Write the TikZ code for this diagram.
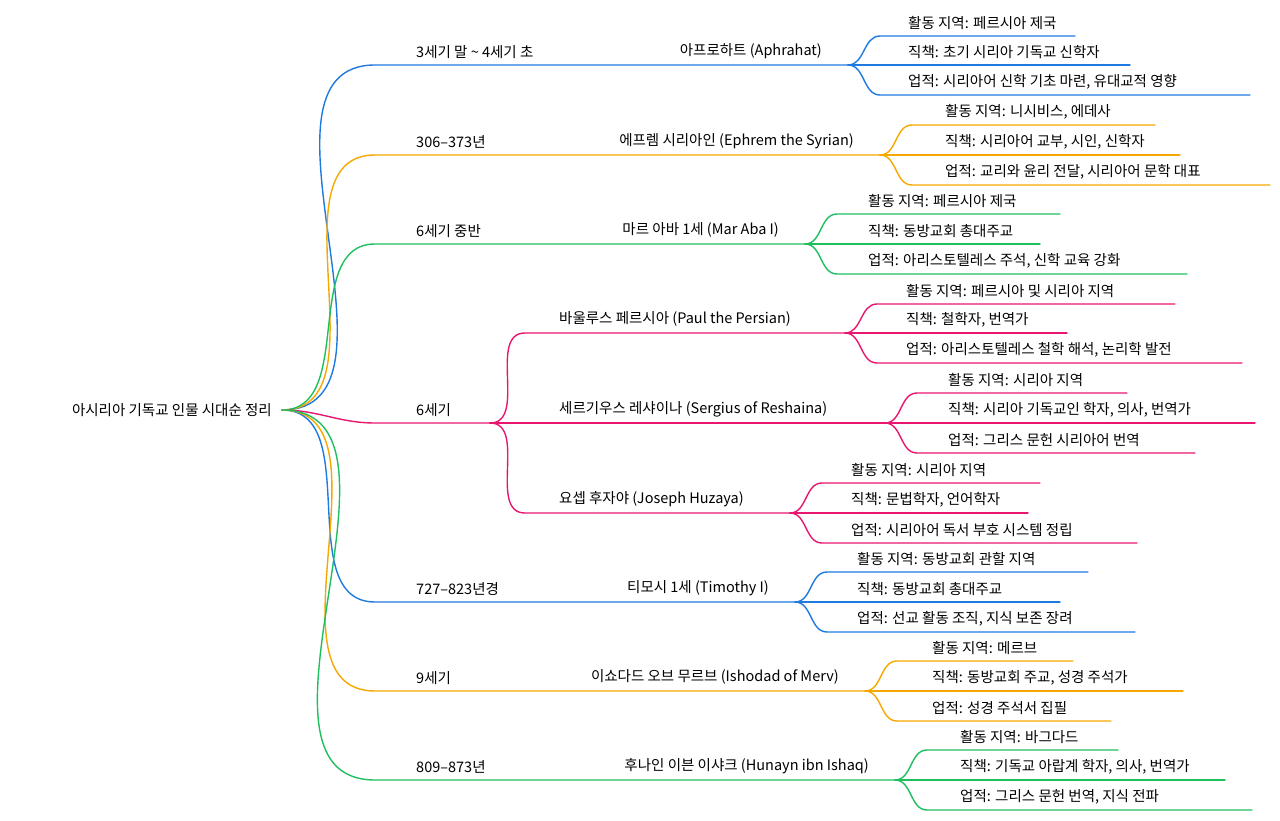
\documentclass[tikz,border=0pt]{standalone}
\usepackage{fontspec}
\setmainfont{Noto Sans CJK KR}
\definecolor{cb}{HTML}{1F7AE0}
\definecolor{co}{HTML}{F5A800}
\definecolor{cg}{HTML}{1FBF5F}
\definecolor{cp}{HTML}{E8166E}
\tikzset{edge/.style={line width=1.4pt,line cap=round},
 lbl/.style={anchor=south west,inner sep=0pt,font=\fontsize{14.5}{17}\selectfont},
 plbl/.style={anchor=south east,inner sep=0pt,font=\fontsize{14.5}{17}\selectfont}}
% leaf: color, jx, y, cy, tx, endx, text
\newcommand\mmleaf[7]{%
 \coordinate (la) at (#2,#3); \coordinate (lb) at ({#2+32},#4); \coordinate (lc) at (#6,#4);
 \draw[edge,#1] (la) to[out=0,in=180] (lb) -- (lc);
 \node[lbl] (lt) at (#5,{#4-6}) {#7};}
\begin{document}
\begin{tikzpicture}[x=1pt,y=-1pt]
\useasboundingbox (0,0) rectangle (1280,821);
\node[anchor=east,inner sep=0pt,font=\fontsize{14.5}{17}\selectfont] (root) at (272,410) {아시리아 기독교 인물 시대순 정리};
\coordinate (r) at (282,410);
% level 1 generic
\newcommand\mmmain[6]{% color,y,label,jx,person,gap
 \coordinate (m1) at (375,#2); \coordinate (m2) at (#4,#2);
 \draw[edge,#1] (r) to[out=0,in=180] (m1) -- (m2);
 \node[lbl] (ml) at (416,{#2-6}) {#3};
 \node[plbl] (mp) at ({#4-26},{#2-6}) {#5};}
\mmmain{cb}{65}{3세기 말 \textasciitilde{} 4세기 초}{848}{아프로하트 (Aphrahat)}{}
\mmleaf{cb}{848}{65}{36}{908}{1075}{활동 지역: 페르시아 제국}
\mmleaf{cb}{848}{65}{65}{908}{1130}{직책: 초기 시리아 기독교 신학자}
\mmleaf{cb}{848}{65}{95}{908}{1250}{업적: 시리아어 신학 기초 마련, 유대교적 영향}
\mmmain{co}{155}{306–373년}{880}{에프렘 시리아인 (Ephrem the Syrian)}{}
\mmleaf{co}{880}{155}{125}{945}{1155}{활동 지역: 니시비스, 에데사}
\mmleaf{co}{880}{155}{155}{945}{1180}{직책: 시리아어 교부, 시인, 신학자}
\mmleaf{co}{880}{155}{185}{945}{1270}{업적: 교리와 윤리 전달, 시리아어 문학 대표}
\mmmain{cg}{244}{6세기 중반}{805}{마르 아바 1세 (Mar Aba I)}{}
\mmleaf{cg}{805}{244}{214}{868}{1060}{활동 지역: 페르시아 제국}
\mmleaf{cg}{805}{244}{244}{868}{1040}{직책: 동방교회 총대주교}
\mmleaf{cg}{805}{244}{274}{868}{1187}{업적: 아리스토텔레스 주석, 신학 교육 강화}
% 6th century pink
\coordinate (p1) at (375,423); \coordinate (p2) at (490,423);
\draw[edge,cp] (r) to[out=0,in=180] (p1) -- (p2);
\node[lbl] (p6) at (416,417) {6세기};
\newcommand\mmsub[4]{% y,jx,person,dummy
 \coordinate (s1) at (525,#1); \coordinate (s2) at (#2,#1);
 \draw[edge,cp] (p2) to[out=0,in=180] (s1) -- (s2);
 \node[lbl] (sp) at (559,{#1-6}) {#3};}
\mmsub{333}{845}{바울루스 페르시아 (Paul the Persian)}{}
\mmleaf{cp}{845}{333}{304}{906}{1175}{활동 지역: 페르시아 및 시리아 지역}
\mmleaf{cp}{845}{333}{333}{906}{1067}{직책: 철학자, 번역가}
\mmleaf{cp}{845}{333}{363}{906}{1242}{업적: 아리스토텔레스 철학 해석, 논리학 발전}
\mmsub{423}{885}{세르기우스 레샤이나 (Sergius of Reshaina)}{}
\mmleaf{cp}{885}{423}{393}{948}{1127}{활동 지역: 시리아 지역}
\mmleaf{cp}{885}{423}{423}{948}{1255}{직책: 시리아 기독교인 학자, 의사, 번역가}
\mmleaf{cp}{885}{423}{453}{948}{1195}{업적: 그리스 문헌 시리아어 번역}
\mmsub{513}{790}{요셉 후자야 (Joseph Huzaya)}{}
\mmleaf{cp}{790}{513}{483}{851}{1040}{활동 지역: 시리아 지역}
\mmleaf{cp}{790}{513}{513}{851}{1028}{직책: 문법학자, 언어학자}
\mmleaf{cp}{790}{513}{543}{851}{1137}{업적: 시리아어 독서 부호 시스템 정립}
\mmmain{cb}{602}{727–823년경}{795}{티모시 1세 (Timothy I)}{}
\mmleaf{cb}{795}{602}{572}{857}{1088}{활동 지역: 동방교회 관할 지역}
\mmleaf{cb}{795}{602}{602}{857}{1060}{직책: 동방교회 총대주교}
\mmleaf{cb}{795}{602}{632}{857}{1135}{업적: 선교 활동 조직, 지식 보존 장려}
\mmmain{co}{691}{9세기}{865}{이쇼다드 오브 무르브 (Ishodad of Merv)}{}
\mmleaf{co}{865}{691}{661}{932}{1073}{활동 지역: 메르브}
\mmleaf{co}{865}{691}{691}{932}{1183}{직책: 동방교회 주교, 성경 주석가}
\mmleaf{co}{865}{691}{721}{932}{1111}{업적: 성경 주석서 집필}
\mmmain{cg}{780}{809–873년}{895}{후나인 이븐 이샤크 (Hunayn ibn Ishaq)}{}
\mmleaf{cg}{895}{780}{750}{960}{1118}{활동 지역: 바그다드}
\mmleaf{cg}{895}{780}{780}{960}{1225}{직책: 기독교 아랍계 학자, 의사, 번역가}
\mmleaf{cg}{895}{780}{810}{960}{1252}{업적: 그리스 문헌 번역, 지식 전파}
\end{tikzpicture}
\end{document}
